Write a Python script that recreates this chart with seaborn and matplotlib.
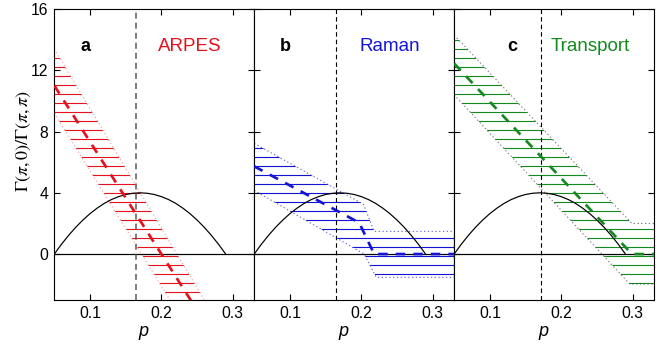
import matplotlib
matplotlib.use("Agg")
import matplotlib.pyplot as plt
import seaborn as sns

# Scaled superconducting dome, shared by all panels
dome_p = [0.05, 0.06, 0.07, 0.08, 0.09, 0.10, 0.11, 0.12, 0.13, 0.14, 0.15, 0.16, 0.17,
          0.18, 0.19, 0.20, 0.21, 0.22, 0.23, 0.24, 0.25, 0.26, 0.27, 0.28, 0.29]
dome_v = [0.00, 0.64, 1.22, 1.75, 2.22, 2.64, 3.00, 3.31, 3.56, 3.75, 3.89, 3.97, 4.00,
          3.97, 3.89, 3.75, 3.56, 3.31, 3.00, 2.64, 2.22, 1.75, 1.22, 0.64, 0.00]

# ARPES estimate with its uncertainty band
arpes_mid_p = [0.05, 0.245]
arpes_mid = [11.0, -3.3]
arpes_hi_p = [0.05, 0.264]
arpes_hi = [13.4, -3.3]
arpes_lo_p = [0.05, 0.216]
arpes_lo = [9.2, -3.3]

# Raman estimate
raman_mid_p = [0.05, 0.197, 0.218, 0.33]
raman_mid = [5.73, 2.05, 0.0, 0.0]
raman_hi_p = [0.05, 0.203, 0.218, 0.33]
raman_hi = [7.23, 3.25, 1.48, 1.48]
raman_lo_p = [0.05, 0.204, 0.221, 0.33]
raman_lo = [4.16, 0.0, -1.52, -1.52]

# Transport estimate
transport_mid_p = [0.05, 0.299, 0.33]
transport_mid = [12.45, 0.0, 0.0]
transport_hi_p = [0.05, 0.299, 0.33]
transport_hi = [14.3, 2.0, 2.0]
transport_lo_p = [0.05, 0.296, 0.33]
transport_lo = [10.4, -1.96, -1.96]

panel_tags = ["a", "b", "c"]
panel_names = ["ARPES", "Raman", "Transport"]
optimal_p = [0.165, 0.165, 0.172]
x_ticks = [0.1, 0.2, 0.3]
y_ticks = [0, 4, 8, 12, 16]

RED, BLUE, GREEN = "#e5121d", "#1414d6", "#138a1f"
panel_colors = [RED, BLUE, GREEN]
edge_colors = ["#f07a80", "#2a2ad0", "#444444"]
vline_colors = ["#555555", "black", "black"]

bands = [
    (arpes_mid_p, arpes_mid, arpes_hi_p, arpes_hi, arpes_lo_p, arpes_lo),
    (raman_mid_p, raman_mid, raman_hi_p, raman_hi, raman_lo_p, raman_lo),
    (transport_mid_p, transport_mid, transport_hi_p, transport_hi,
     transport_lo_p, transport_lo),
]

sns.set_theme(style="ticks")
plt.rcParams["font.family"] = ["Liberation Sans", "DejaVu Sans"]
plt.rcParams["mathtext.fontset"] = "stix"
plt.rcParams["hatch.linewidth"] = 0.75
plt.rcParams["axes.linewidth"] = 0.75

DPI = 108
fig, axes = plt.subplots(1, 3, sharey=True, figsize=(669 / DPI, 347 / DPI), dpi=DPI)
fig.subplots_adjust(left=0.0812, right=0.9776, bottom=0.1354, top=0.974, wspace=0)

for i, ax in enumerate(axes):
    mid_p, mid, hi_p, hi, lo_p, lo = bands[i]
    col = panel_colors[i]

    # hatched uncertainty band
    poly_p = list(hi_p) + list(lo_p)[::-1]
    poly_v = list(hi) + list(lo)[::-1]
    ax.fill(poly_p, poly_v, facecolor="none", edgecolor=col, hatch="--",
            linewidth=0, zorder=1)
    for bp, bv in ((hi_p, hi), (lo_p, lo)):
        sns.lineplot(x=bp, y=bv, ax=ax, color=edge_colors[i], lw=0.7, alpha=0.75,
                     linestyle=(0, (1.2, 2.4)), zorder=2, sort=False)

    ax.axhline(0, color="black", lw=0.8, zorder=2)
    sns.lineplot(x=dome_p, y=dome_v, ax=ax, color="black", lw=0.8, zorder=3)
    ax.axvline(optimal_p[i], color=vline_colors[i], lw=0.75 if i else 1.0,
               linestyle=(0, (4, 2.7)), zorder=3)
    sns.lineplot(x=mid_p, y=mid, ax=ax, color=col, lw=1.8,
                 linestyle=(0, (3.5, 3.0)), zorder=4, sort=False)

    ax.text(0.093 if i < 2 else 0.132, 13.55, panel_tags[i], ha="center",
            va="center", fontsize=12, fontweight="bold", color="black")
    ax.text(0.24, 13.55, panel_names[i], ha="center", va="center",
            fontsize=12.5, color=col)

    ax.set_xlim(0.05, 0.33)
    ax.set_ylim(-3, 16)
    ax.set_xticks(x_ticks)
    ax.set_xticklabels([f"{t:.1f}" for t in x_ticks])
    ax.set_yticks(y_ticks)
    ax.tick_params(direction="in", length=4, width=0.75, top=True, right=True,
                   labelsize=10.5, pad=4, colors="black")
    ax.set_xlabel("p", fontstyle="italic", fontsize=12, color="black")
    ax.xaxis.set_label_coords(0.447, -0.079)
    ax.set_ylabel("")
    for s in ax.spines.values():
        s.set_color("black")
    ax.grid(False)

axes[0].set_ylabel(r"$\Gamma(\pi,0)/\Gamma(\pi,\pi)$", fontsize=12, color="black")
axes[0].yaxis.set_label_coords(-0.107, 0.547)

fig.savefig("out.png", dpi=DPI)
